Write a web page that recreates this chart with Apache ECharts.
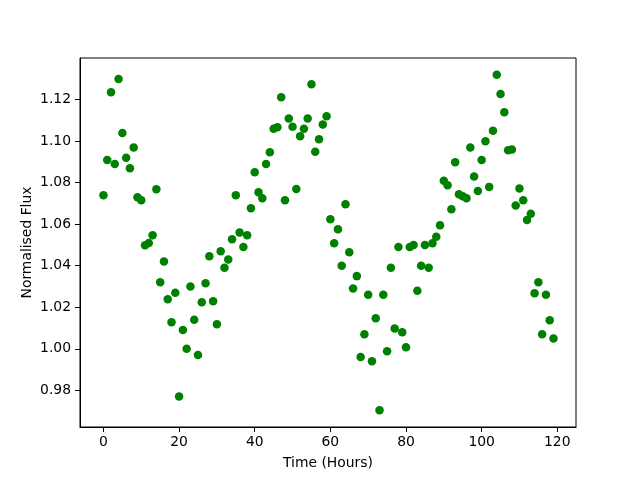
<!DOCTYPE html>
<html>
<head>
<meta charset="utf-8">
<script src="https://cdn.jsdelivr.net/npm/echarts@6/dist/echarts.min.js"></script>
<style>html,body{margin:0;padding:0;background:#fff}#c{width:640px;height:480px}</style>
</head>
<body>
<div id="c"></div>
<script>
var hours = [0,1,2,3,4,5,6,7,8,9,10,11,12,13,14,15,16,17,18,19,
  20,21,22,23,24,25,26,27,28,29,30,31,32,33,34,35,36,37,38,39,
  40,41,42,43,44,45,46,47,48,49,50,51,52,53,54,55,56,57,58,59,
  60,61,62,63,64,65,66,67,68,69,70,71,72,73,74,75,76,77,78,79,
  80,81,82,83,84,85,86,87,88,89,90,91,92,93,94,95,96,97,98,99,
  100,101,102,103,104,105,106,107,108,109,110,111,112,113,114,115,116,117,118,119];
var flux = [1.0740,1.0910,1.1236,1.0890,1.1300,1.1040,1.0920,1.0870,1.0970,1.0730,
  1.0716,1.0499,1.0510,1.0547,1.0769,1.0320,1.0420,1.0238,1.0128,1.0270,
  0.9770,1.0090,1.0000,1.0300,1.0140,0.9970,1.0224,1.0316,1.0446,1.0229,
  1.0118,1.0470,1.0390,1.0430,1.0528,1.0740,1.0560,1.0490,1.0547,1.0677,
  1.0850,1.0754,1.0725,1.0890,1.0947,1.1060,1.1067,1.1212,1.0716,1.1110,
  1.1070,1.0770,1.1024,1.1060,1.1110,1.1275,1.0949,1.1010,1.1080,1.1120,
  1.0624,1.0508,1.0576,1.0400,1.0696,1.0465,1.0290,1.0350,0.9960,1.0070,
  1.0260,0.9940,1.0147,0.9704,1.0260,0.9988,1.0390,1.0098,1.0490,1.0080,
  1.0007,1.0490,1.0500,1.0280,1.0400,1.0500,1.0390,1.0508,1.0540,1.0595,
  1.0810,1.0788,1.0672,1.0899,1.0745,1.0735,1.0725,1.0970,1.0830,1.0760,
  1.0910,1.1000,1.0780,1.1050,1.1320,1.1227,1.1140,1.0957,1.0960,1.0690,
  1.0772,1.0716,1.0620,1.0650,1.0267,1.0320,1.0070,1.0260,1.0137,1.0050];
var xTicks = [0,20,40,60,80,100,120];
var yTicks = [0.98,1.00,1.02,1.04,1.06,1.08,1.10,1.12];
var xLabel = 'Time (Hours)';
var yLabel = 'Normalised Flux';

var pts = hours.map(function(h,i){return [h, flux[i]];});
var font = 'DejaVu Sans';
var chart = echarts.init(document.getElementById('c'), null, {renderer:'canvas'});
chart.setOption({
  animation:false,
  backgroundColor:'#fff',
  grid:{left:80,right:64,top:58,bottom:53,show:true,borderColor:'#000',borderWidth:1,backgroundColor:'transparent'},
  xAxis:{type:'value',min:-6.2,max:124.95,
    name:xLabel,nameLocation:'middle',nameGap:29,nameMoveOverlap:false,
    nameTextStyle:{fontFamily:font,fontSize:13.9,color:'#000'},
    axisLine:{show:true,onZero:false,lineStyle:{color:'#000',width:1}},
    axisTick:{show:true,inside:false,length:5,customValues:xTicks,lineStyle:{color:'#000'}},
    axisLabel:{customValues:xTicks,margin:8,fontFamily:font,fontSize:13.9,color:'#000'},
    splitLine:{show:false}},
  yAxis:{type:'value',min:0.9623,max:1.1401,
    name:yLabel,nameLocation:'middle',nameGap:46,nameRotate:90,nameMoveOverlap:false,
    nameTextStyle:{fontFamily:font,fontSize:13.9,color:'#000'},
    axisLine:{show:true,onZero:false,lineStyle:{color:'#000',width:1}},
    axisTick:{show:true,inside:false,length:5,customValues:yTicks,lineStyle:{color:'#000'}},
    axisLabel:{customValues:yTicks,margin:9,fontFamily:font,fontSize:13.9,color:'#000',
      formatter:function(v){return v.toFixed(2);}},
    splitLine:{show:false}},
  series:[{type:'scatter',data:pts,symbol:'circle',symbolSize:8.5,
    itemStyle:{color:'#008000',opacity:1}}]
});
</script>
</body>
</html>
